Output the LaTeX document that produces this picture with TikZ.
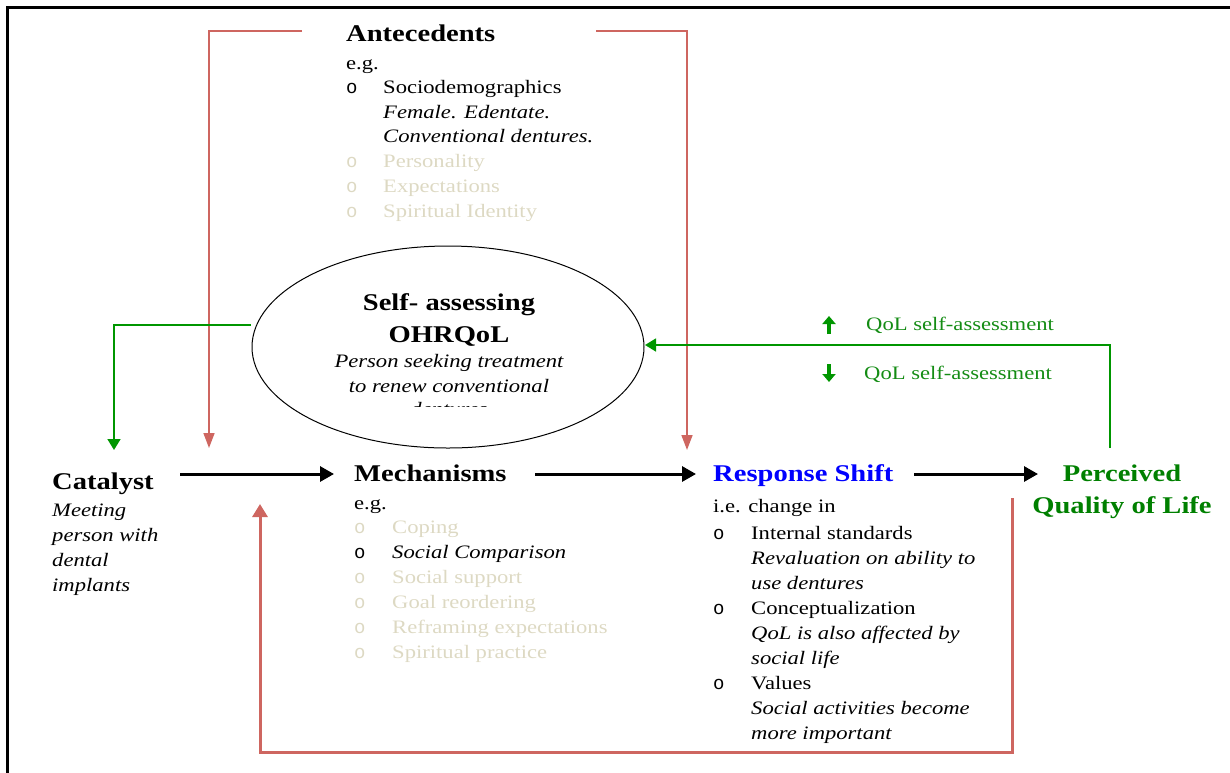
\documentclass[tikz,border=0pt]{standalone}
\usepackage{fontspec}
\setmainfont{Liberation Serif}[FakeStretch=1.19]
\newfontfamily\bulletfont{Liberation Mono}
\usetikzlibrary{arrows.meta,shapes.geometric}
\definecolor{redl}{RGB}{206,102,96}
\definecolor{greenl}{RGB}{0,150,0}
\definecolor{greent}{RGB}{20,140,20}
\definecolor{greenb}{RGB}{0,128,0}
\definecolor{grayt}{RGB}{221,217,195}
\definecolor{bluet}{RGB}{0,0,255}
\newcommand\bul[1]{\makebox[#1pt][l]{\bulletfont o}}
\begin{document}
\begin{tikzpicture}[x=1pt,y=-1pt,
  txt/.style={anchor=base west, inner sep=0pt, font=\fontsize{19}{25}\selectfont},
  itx/.style={txt, font=\fontsize{19}{25}\selectfont\itshape},
  ttl/.style={anchor=base west, inner sep=0pt, font=\fontsize{24}{30}\selectfont\bfseries},
  faint/.style={txt, text=grayt},
  redarrow/.style={draw=redl, line width=1.6pt, -{Triangle[length=15pt,width=11pt]}},
  redthick/.style={draw=redl, line width=3pt, -{Triangle[length=13pt,width=15pt]}},
  greenarrow/.style={draw=greenl, line width=1.6pt, -{Triangle[length=11pt,width=13pt]}},
  blackarrow/.style={draw=black, line width=3pt, -{Triangle[length=14pt,width=15pt]}},
  thickgreen/.style={draw=greenl, line width=3.6pt, -{Triangle[length=8pt,width=13pt]}}
]
\useasboundingbox (0,0) rectangle (1230,772);
% frame
\draw[line width=3pt] (7,800) -- (7,7) -- (1260,7);

% Antecedents
\node[ttl] (ant) at (346,41) {Antecedents};
\node[txt] (a1) at (346,69) {e.g.};
\node[txt] (a2) at (346,93) {\bul{37}Sociodemographics};
\node[itx] (a3) at (383,118) {Female. Edentate.};
\node[itx] (a4) at (383,142) {Conventional dentures.};
\node[faint] (a5) at (346,167) {\bul{37}Personality};
\node[faint] (a6) at (346,192) {\bul{37}Expectations};
\node[faint] (a7) at (346,217) {\bul{37}Spiritual Identity};

% ellipse
\node[draw, ellipse, minimum width=392pt, minimum height=202pt, inner sep=0pt, line width=1pt] (ell) at (448,347) {};
\node[anchor=base, inner sep=0pt, font=\fontsize{24}{30}\selectfont\bfseries] (e1) at (449,310) {Self- assessing};
\node[anchor=base, inner sep=0pt, font=\fontsize{24}{30}\selectfont\bfseries] (e2) at (449,342) {OHRQoL};
\node[anchor=base, inner sep=0pt, font=\fontsize{19}{25}\selectfont\itshape] (e3) at (449,367) {Person seeking treatment};
\node[anchor=base, inner sep=0pt, font=\fontsize{19}{25}\selectfont\itshape] (e4) at (449,392) {to renew conventional};
\begin{scope}
\clip (300,380) rectangle (600,406.5);
\node[anchor=base, inner sep=0pt, font=\fontsize{19}{25}\selectfont\itshape] (e5) at (449,415) {dentures};
\end{scope}

% Catalyst
\node[ttl] (cat) at (52,489) {Catalyst};
\node[itx] (c1) at (52,516) {Meeting};
\node[itx] (c2) at (52,541) {person with};
\node[itx] (c3) at (52,566) {dental};
\node[itx] (c4) at (52,591) {implants};

% Mechanisms
\node[ttl] (mech) at (354,481) {Mechanisms};
\node[txt] (m1) at (354,509) {e.g.};
\node[faint] (m2) at (354,533) {\bul{38}Coping};
\node[txt] (m3) at (354,558) {\bul{38}\itshape Social Comparison};
\node[faint] (m4) at (354,583) {\bul{38}Social support};
\node[faint] (m5) at (354,608) {\bul{38}Goal reordering};
\node[faint] (m6) at (354,633) {\bul{38}Reframing expectations};
\node[faint] (m7) at (354,658) {\bul{38}Spiritual practice};

% Response shift
\node[ttl, text=bluet] (rs) at (713,481) {Response Shift};
\node[txt] (r1) at (713,512) {i.e. change in};
\node[txt] (r2) at (713,539) {\bul{38}Internal standards};
\node[itx] (r3) at (751,564) {Revaluation on ability to};
\node[itx] (r4) at (751,589) {use dentures};
\node[txt] (r5) at (713,614) {\bul{38}Conceptualization};
\node[itx] (r6) at (751,639) {QoL is also affected by};
\node[itx] (r7) at (751,664) {social life};
\node[txt] (r8) at (713,689) {\bul{38}Values};
\node[itx] (r9) at (751,714) {Social activities become};
\node[itx] (r10) at (751,739) {more important};

% Perceived QoL
\node[anchor=base, inner sep=0pt, font=\fontsize{24}{30}\selectfont\bfseries, text=greenb] (pq1) at (1122,481) {Perceived};
\node[anchor=base, inner sep=0pt, font=\fontsize{24}{30}\selectfont\bfseries, text=greenb] (pq2) at (1122,513) {Quality of Life};

% QoL labels
\node[txt, text=greent] (q1) at (866,330) {QoL self-assessment};
\node[txt, text=greent] (q2) at (864,379) {QoL self-assessment};
\coordinate (up1) at (829,334);
\coordinate (up2) at (829,316);
\coordinate (dn1) at (829,364);
\coordinate (dn2) at (829,382);
\draw[thickgreen] (up1) -- (up2);
\draw[thickgreen] (dn1) -- (dn2);

% coordinates for connectors
\coordinate (rl0) at (302,31);
\coordinate (rl1) at (209,31);
\coordinate (rl2) at (209,448);
\coordinate (rr0) at (596,31);
\coordinate (rr1) at (687,31);
\coordinate (rr2) at (687,450);
\coordinate (rb0) at (1012,498);
\coordinate (rb1) at (1012,752);
\coordinate (rb2) at (260,752);
\coordinate (rb3) at (260,504);
\coordinate (g0) at (251,325);
\coordinate (g1) at (114,325);
\coordinate (g2) at (114,450);
\coordinate (f0) at (1110,448);
\coordinate (f1) at (1110,345);
\coordinate (f2) at (645,345);

\draw[redarrow] (rl0) -- (rl1) -- (rl2);
\draw[redarrow] (rr0) -- (rr1) -- (rr2);
\draw[redthick] (rb0) -- (rb1) -- (rb2) -- (rb3);
\draw[greenarrow] (g0) -- (g1) -- (g2);
\draw[greenarrow] (f0) -- (f1) -- (f2);

% main arrows
\coordinate (k1) at (180,474);
\coordinate (k2) at (334,474);
\coordinate (k3) at (535,474);
\coordinate (k4) at (696,474);
\coordinate (k5) at (914,474);
\coordinate (k6) at (1038,474);
\draw[blackarrow] (k1) -- (k2);
\draw[blackarrow] (k3) -- (k4);
\draw[blackarrow] (k5) -- (k6);
\end{tikzpicture}
\end{document}
